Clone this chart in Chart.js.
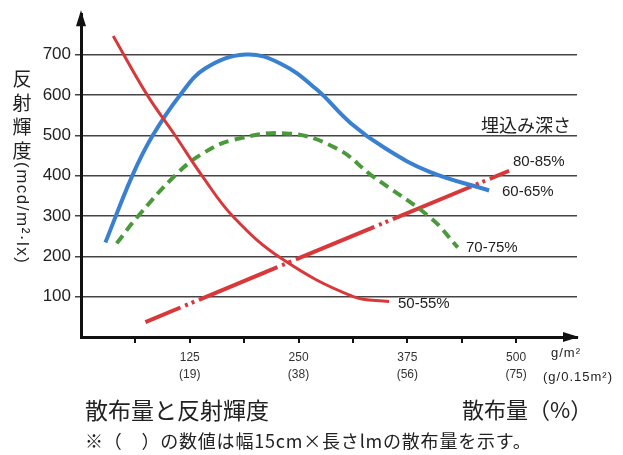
<!DOCTYPE html>
<html><head><meta charset="utf-8">
<script src="https://cdn.jsdelivr.net/npm/chart.js@4.4.0/dist/chart.umd.min.js"></script>
<style>html,body{margin:0;padding:0;background:#fff}#wrap{width:623px;height:455px;position:relative}</style>
</head><body><div id="wrap"><canvas id="c" width="623" height="455"></canvas></div>
<script>
// data (x: 散布量 g/m², y: 反射輝度 mcd/m²·lx)
const depth5055X = [37, 76, 108, 139, 175, 230, 313, 354];
const depth5055Y = [746, 600, 500, 400, 298, 195, 100, 88];
const depth6065X = [28, 59, 82, 114, 143, 189, 229, 270, 310, 350, 400, 469];
const depth6065Y = [234, 400, 498, 600, 666, 700, 678, 615, 530, 467, 410, 363];
const depth7075X = [41, 65, 108, 137, 174, 240, 295, 333, 402, 433];
const depth7075Y = [232, 298, 400, 451, 488, 504, 466, 402, 295, 222];
const depth8085X = [74, 492];
const depth8085Y = [37, 412];
const xTickValues = [62.5, 125, 187.5, 250, 312.5, 375, 437.5, 500];
const xTickLabels = {125: ['125', '(19)'], 250: ['250', '(38)'], 375: ['375', '(56)'], 500: ['500', '(75)']};
const yTickLabels = [100, 200, 300, 400, 500, 600, 700];
const seriesLabels = ['50-55%', '60-65%', '70-75%', '80-85%'];

const pts = (xs, ys) => xs.map((x, i) => ({x, y: ys[i]}));
const NUM = '"Liberation Sans",Arial,sans-serif';
const JP = '"Noto Sans CJK JP","Noto Sans CJK SC",sans-serif';

const deco = {
  id: 'deco',
  afterDraw(chart) {
    const ctx = chart.ctx, a = chart.chartArea;
    ctx.save();
    ctx.fillStyle = '#111';
    // arrows
    ctx.beginPath(); ctx.moveTo(a.left, a.top - 4); ctx.lineTo(a.left - 5, a.top + 12); ctx.lineTo(a.left + 5, a.top + 12); ctx.closePath(); ctx.fill();
    ctx.beginPath(); ctx.moveTo(a.right + 2, a.bottom); ctx.lineTo(a.right - 14, a.bottom - 5); ctx.lineTo(a.right - 14, a.bottom + 5); ctx.closePath(); ctx.fill();
    // series labels
    ctx.fillStyle = '#222';
    ctx.font = '15px ' + NUM;
    ctx.textBaseline = 'middle';
    ctx.textAlign = 'left';
    ctx.fillText(seriesLabels[3], 513, 162);
    ctx.fillText(seriesLabels[1], 502, 192);
    ctx.fillText(seriesLabels[2], 466, 248);
    ctx.fillText(seriesLabels[0], 398, 304);
    ctx.font = '18px ' + JP;
    ctx.fillText('埋込み深さ', 481, 125);
    // unit
    ctx.font = '13px ' + NUM;
    ctx.letterSpacing = '1px';
    ctx.fillText('g/m²', 551, 353);
    ctx.fillText('(g/0.15m²)', 543, 377);
    // y title
    ctx.letterSpacing = '0px';
    ctx.font = '19px ' + JP;
    ctx.textAlign = 'center';
    ['反', '射', '輝', '度'].forEach((c, i) => ctx.fillText(c, 22, 79 + i * 24));
    ctx.save();
    ctx.translate(22, 162);
    ctx.rotate(Math.PI / 2);
    ctx.textAlign = 'left';
    ctx.font = '17px ' + NUM;
    ctx.letterSpacing = '1.5px';
    ctx.fillText('(mcd/m²·lx)', 0, 0);
    ctx.restore();
    // bottom texts
    ctx.textAlign = 'left';
    ctx.fillStyle = '#222';
    ctx.letterSpacing = '0px';
    ctx.font = '23px ' + JP;
    ctx.fillText('散布量と反射輝度', 85, 410);
    ctx.font = '22px ' + JP;
    ctx.fillText('散布量（%）', 462, 410);
    ctx.font = '18px ' + JP;
    ctx.letterSpacing = '0.8px';
    ctx.fillText('※（　）の数値は幅15cm×長さlmの散布量を示す。', 85, 441);
    ctx.restore();
  }
};

new Chart(document.getElementById('c'), {
  type: 'scatter',
  data: {
    datasets: [
      {label: seriesLabels[0], data: pts(depth5055X, depth5055Y), showLine: true, borderColor: '#d8383a', borderWidth: 3, pointRadius: 0, tension: 0.4},
      {label: seriesLabels[1], data: pts(depth6065X, depth6065Y), showLine: true, borderColor: '#3a80d0', borderWidth: 4, pointRadius: 0, tension: 0.4},
      {label: seriesLabels[2], data: pts(depth7075X, depth7075Y), showLine: true, borderColor: '#4a9a3c', borderWidth: 4, borderDash: [10, 6], pointRadius: 0, tension: 0.4},
      {label: seriesLabels[3], data: pts(depth8085X, depth8085Y), showLine: true, borderColor: '#d8383a', borderWidth: 4, borderDash: [85, 5, 3, 4, 3, 5], borderDashOffset: 47, pointRadius: 0, tension: 0}
    ]
  },
  options: {
    responsive: false,
    animation: false,
    layout: {padding: {left: 0, top: 10, right: 46, bottom: 0}},
    plugins: {legend: {display: false}, tooltip: {enabled: false}},
    scales: {
      x: {
        type: 'linear', min: 0, max: 570,
        afterBuildTicks: s => { s.ticks = xTickValues.map(v => ({value: v})); },
        afterFit: s => { s.height = 118; },
        grid: {drawOnChartArea: false, drawTicks: true, tickLength: 6, color: '#111', lineWidth: 2},
        border: {display: true, color: '#111', width: 3},
        ticks: {
          autoSkip: false, maxRotation: 0, padding: 6, color: '#333',
          font: {family: NUM, size: 12, lineHeight: 1.45},
          callback: v => xTickLabels[v] || ''
        }
      },
      y: {
        type: 'linear', min: 0, max: 800,
        afterBuildTicks: s => { s.ticks = yTickLabels.map(v => ({value: v})); },
        afterFit: s => { s.width = 81; },
        grid: {color: '#444', lineWidth: 1.5, drawTicks: true, tickLength: 6},
        border: {display: true, color: '#111', width: 3},
        ticks: {color: '#222', padding: 4, font: {family: NUM, size: 17}}
      }
    }
  },
  plugins: [deco]
});
</script></body></html>
